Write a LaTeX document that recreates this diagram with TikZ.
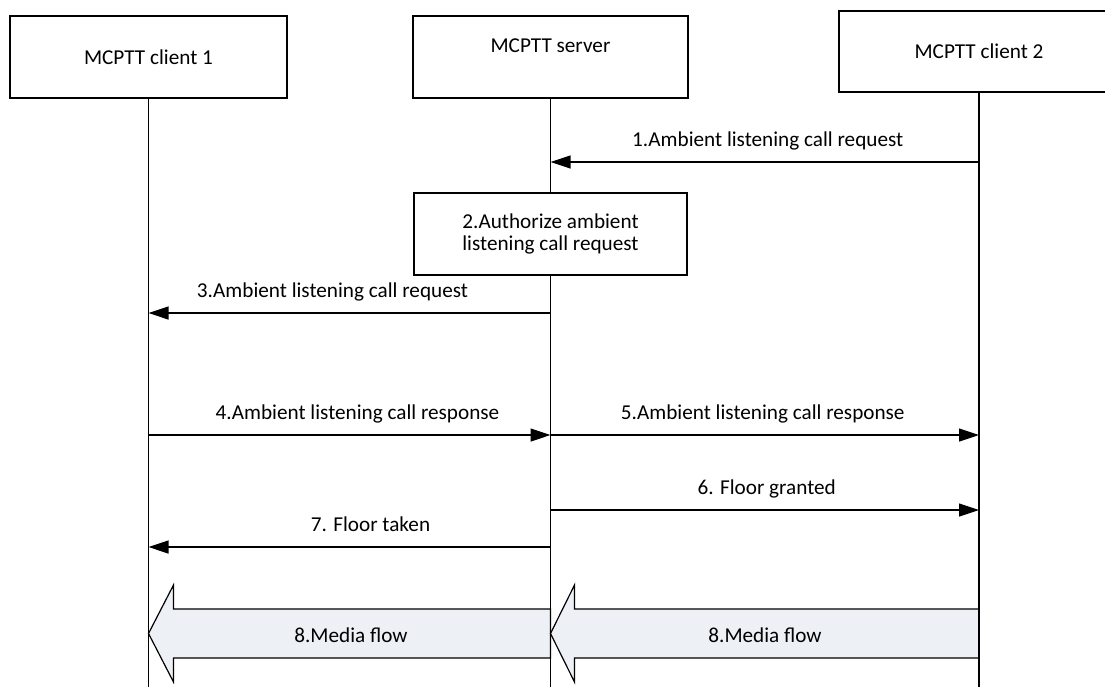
\documentclass[tikz,border=0pt]{standalone}
\usepackage{fontspec}
\setmainfont{Carlito}
\usetikzlibrary{arrows.meta,positioning,calc}
\definecolor{linegray}{HTML}{000000}
\definecolor{mediafill}{HTML}{EDF0F5}
\newcommand{\diagfont}{\fontsize{21.2}{22}\selectfont}
\tikzset{
  entity/.style={draw=linegray,line width=1.2pt,fill=white,inner sep=0pt,minimum height=82pt,align=center,font=\diagfont},
  actionbox/.style={entity,minimum width=273pt},
  lifeline/.style={draw=linegray,line width=1.2pt},
  msg/.style={-{Triangle[length=20pt,width=13pt]},line width=1.2pt,draw=linegray},
  msglabel/.style={anchor=base,yshift=16pt,inner sep=0pt,font=\diagfont},
  media/.style={draw=linegray,line width=1.2pt,fill=mediafill,line join=miter},
  medialabel/.style={font=\diagfont,inner sep=0pt}
}
\begin{document}
\begin{tikzpicture}[x=1pt,y=-1pt]
  \useasboundingbox (0,0) rectangle (1105,686);
  % participants
  \node[entity,minimum width=277pt] (cl1) at (148.5,57) {MCPTT client 1};
  \node[entity,minimum width=275pt,text depth=23pt] (srv) at (550.5,57) {MCPTT server};
  \node[entity,minimum width=280pt,minimum height=81pt] (cl2) at (979,51.5) {MCPTT client 2};
  \coordinate (bottom) at (0,690);
  \coordinate (m1) at (0,162);
  \coordinate (m3) at (0,313);
  \coordinate (m4) at (0,435);
  \coordinate (m6) at (0,510);
  \coordinate (m7) at (0,547);
  \coordinate (m8) at (0,633.5);
  % media flow
  \draw[media] ($(srv.south |- m8)+(0,-24.5)$) -- ($(cl1.south |- m8)+(25,-24.5)$) -- ($(cl1.south |- m8)+(25,-48.5)$)
    -- (cl1.south |- m8) -- ($(cl1.south |- m8)+(25,48.5)$) -- ($(cl1.south |- m8)+(25,24.5)$) -- ($(srv.south |- m8)+(0,24.5)$) -- cycle;
  \draw[media] ($(cl2.south |- m8)+(0,-24.5)$) -- ($(srv.south |- m8)+(24,-24.5)$) -- ($(srv.south |- m8)+(24,-48.5)$)
    -- (srv.south |- m8) -- ($(srv.south |- m8)+(24,48.5)$) -- ($(srv.south |- m8)+(24,24.5)$) -- ($(cl2.south |- m8)+(0,24.5)$) -- cycle;
  \node[medialabel] (media1) at (351,635) {8.Media flow};
  \node[medialabel] (media2) at (765,635) {8.Media flow};
  % lifelines
  \draw[lifeline] (cl1.south) -- (cl1.south |- bottom);
  \draw[lifeline] (srv.south) -- (srv.south |- bottom);
  \draw[lifeline] (cl2.south) -- (cl2.south |- bottom);
  \node[actionbox] (auth) at (550.5,234) {2.Authorize ambient\\listening call request};
  % messages
  \draw[msg] (cl2.south |- m1) -- (srv.south |- m1) node[msglabel,midway,xshift=3pt] {1.Ambient listening call request};
  \draw[msg] (srv.south |- m3) -- (cl1.south |- m3) node[msglabel,midway,xshift=-17pt] {3.Ambient listening call request};
  \draw[msg] (cl1.south |- m4) -- (srv.south |- m4) node[msglabel,midway,xshift=8pt] {4.Ambient listening call response};
  \draw[msg] (srv.south |- m4) -- (cl2.south |- m4) node[msglabel,midway,xshift=-2pt] {5.Ambient listening call response};
  \draw[msg] (srv.south |- m6) -- (cl2.south |- m6) node[msglabel,midway,xshift=2pt] {6. Floor granted};
  \draw[msg] (srv.south |- m7) -- (cl1.south |- m7) node[msglabel,midway,xshift=21pt] {7. Floor taken};
\end{tikzpicture}
\end{document}
